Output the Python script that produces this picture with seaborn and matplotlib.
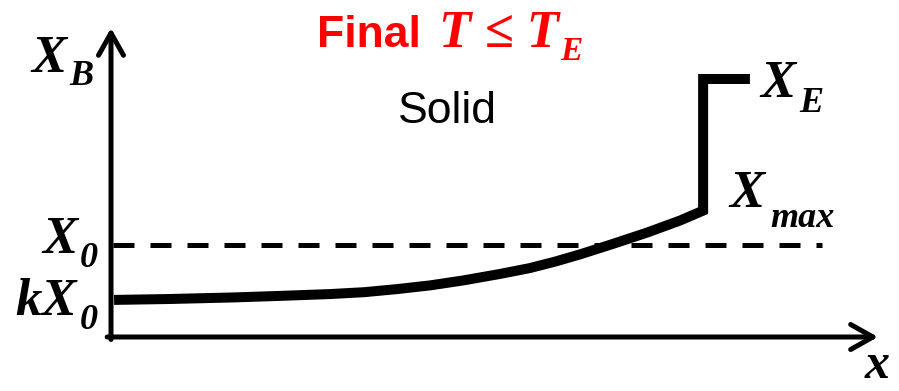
import matplotlib
matplotlib.use("Agg")
import matplotlib.pyplot as plt
import matplotlib.transforms as mtransforms
import seaborn as sns
import pandas as pd

sns.set_style("white")

# Solid composition along the casting (fraction of length, composition fraction)
position = [0.004, 0.077, 0.159, 0.220, 0.286, 0.330, 0.373, 0.416, 0.459, 0.507,
            0.546, 0.579, 0.611, 0.654, 0.699, 0.742, 0.772, 0.772, 0.833]
composition = [0.120, 0.123, 0.128, 0.133, 0.139, 0.145, 0.155, 0.167, 0.183, 0.204,
               0.223, 0.244, 0.267, 0.301, 0.338, 0.377, 0.409, 0.835, 0.835]

# Reference levels
X0 = 0.298
dash_start, dash_end = 0.003, 0.927

region_text = "Solid"

df = pd.DataFrame({"position": position, "composition": composition})

fig = plt.figure(figsize=(8.99, 3.91), dpi=100)
ax = fig.add_axes([111 / 899, (391 - 337) / 391, (878 - 111) / 899, (337 - 28) / 391])

# Nominal composition
ax.plot([dash_start, dash_end], [X0, X0], color="black", lw=3.6,
        dashes=(4.2, 3.2), dash_capstyle="butt")

# Scheil-type solid composition profile
sns.lineplot(data=df, x="position", y="composition", sort=False, ax=ax,
             color="black", lw=7.2, estimator=None)
for ln in ax.get_lines():
    if ln.get_linewidth() > 7:
        ln.set_solid_joinstyle("miter")
        ln.set_solid_capstyle("butt")
ax.set_xlim(0, 1)
ax.set_ylim(0, 1)
ax.axis("off")

# Axes with arrow heads
arrow = dict(arrowstyle="->,head_length=0.8,head_width=0.45", lw=3.6,
             color="black", mutation_scale=20, shrinkA=0, shrinkB=0)
ax.annotate("", xy=(1.0, 0), xytext=(-0.005, 0), xycoords="data",
            arrowprops=arrow, annotation_clip=False)
ax.annotate("", xy=(0, 1.0), xytext=(0, -0.008), xycoords="data",
            arrowprops=arrow, annotation_clip=False)

renderer = fig.canvas.get_renderer()
ident = mtransforms.IdentityTransform()
serif = dict(family="Liberation Serif", weight="bold", style="italic")


def sub_label(p, c, main, sub, color="black", size=38, sub_size=26,
              drop=13, gap=0):
    """Main symbol at data point (p, c) (left, baseline) with a lowered subscript."""
    t = ax.text(p, c, main, ha="left", va="baseline", fontsize=size,
                color=color, clip_on=False, **serif)
    bb = t.get_window_extent(renderer)
    _, base = ax.transData.transform((p, c))
    if sub:
        ax.text(bb.x1 + gap, base - drop, sub, ha="left", va="baseline",
                fontsize=sub_size, color=color, transform=ident,
                clip_on=False, **serif)
    return t


sub_label(-0.104, 0.858, "X", "B", gap=3)
sub_label(-0.090, 0.272, "X", "0", gap=3, drop=14)
sub_label(-0.125, 0.071, "kX", "0", gap=3, drop=14)
sub_label(0.847, 0.777, "X", "E", gap=3, drop=15)
sub_label(0.806, 0.420, "X", "max", gap=6, drop=20)
sub_label(0.983, -0.133, "x", "", size=36)

# Title: "Final T ≤ T_E"
tf = ax.text(0.268, 0.939, "Final ", ha="left", va="baseline", fontsize=32,
             color="#ff0000", weight="bold", family="Liberation Sans",
             clip_on=False)
bbf = tf.get_window_extent(renderer)
_, base_t = ax.transData.transform((0.268, 0.939))
tm = ax.text(bbf.x1 + 6, base_t, "T \u2264 T", ha="left", va="baseline",
             fontsize=38, color="#ff0000", transform=ident, clip_on=False, **serif)
bbm = tm.get_window_extent(renderer)
ax.text(bbm.x1 + 1, base_t - 13, "E", ha="left", va="baseline", fontsize=24,
        color="#ff0000", transform=ident, clip_on=False, **serif)

ax.text(0.438, 0.693, region_text, ha="center", va="baseline", fontsize=32,
        color="black", family="Liberation Sans", clip_on=False)

fig.savefig("out.png", dpi=100)
